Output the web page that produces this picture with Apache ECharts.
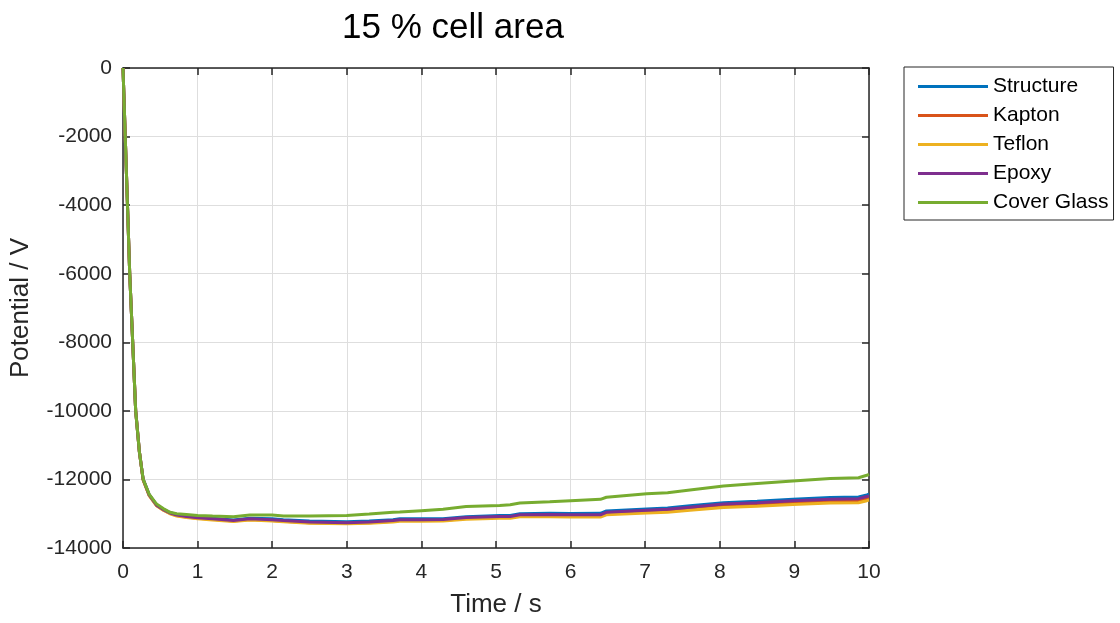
<!DOCTYPE html>
<html style='height: 100%'>
<head>
    <meta charset='utf-8'>
</head>
<body style='height: 100%; margin: 0; background: #fff'>
    <div id='container' style='width: 1120px; height: 623px'></div>
    <script type='text/javascript' src='https://cdn.jsdelivr.net/npm/echarts@6/dist/echarts.min.js'></script>
    <script type="text/javascript">

// time axis (s)
var time = [0, 0.03, 0.06, 0.09, 0.13, 0.17, 0.22, 0.27, 0.35, 0.45, 0.54, 0.63, 0.72, 0.85, 1.0, 1.2, 1.48, 1.7, 2.0, 2.15, 2.5, 3.0, 3.3, 3.62, 3.71, 4.0, 4.29, 4.6, 5.05, 5.19, 5.32, 5.72, 6.0, 6.4, 6.48, 7.02, 7.3, 7.6, 8.05, 8.5, 8.98, 9.48, 9.86, 9.97, 10];

// potential (V) for each material
var structure = [0, -2000, -4000, -6000, -8000, -10000, -11200, -11990, -12440, -12740, -12870, -12965, -13020, -13060, -13100, -13130, -13180, -13130, -13150, -13175, -13215, -13235, -13215, -13175, -13150, -13150, -13145, -13085, -13050, -13050, -13000, -12985, -12995, -12990, -12920, -12860, -12830, -12770, -12680, -12635, -12575, -12525, -12510, -12450, -12430];
var kapton = [0, -2000, -4000, -6000, -8000, -10000, -11200, -12010, -12460, -12760, -12890, -12990, -13055, -13095, -13135, -13165, -13215, -13170, -13195, -13220, -13260, -13280, -13260, -13220, -13200, -13200, -13195, -13135, -13105, -13110, -13060, -13055, -13065, -13065, -12995, -12940, -12915, -12860, -12770, -12730, -12680, -12635, -12620, -12560, -12545];
var teflon = [0, -2000, -4000, -6000, -8000, -10000, -11200, -12020, -12470, -12770, -12900, -13000, -13070, -13110, -13150, -13180, -13230, -13185, -13210, -13235, -13275, -13295, -13280, -13240, -13220, -13220, -13215, -13160, -13130, -13135, -13090, -13085, -13095, -13095, -13030, -12980, -12955, -12900, -12820, -12785, -12730, -12690, -12680, -12620, -12600];
var epoxy = [0, -2000, -4000, -6000, -8000, -10000, -11200, -12000, -12450, -12750, -12880, -12980, -13040, -13080, -13120, -13150, -13200, -13150, -13175, -13200, -13240, -13260, -13240, -13200, -13175, -13175, -13170, -13110, -13080, -13080, -13030, -13020, -13030, -13030, -12960, -12900, -12870, -12810, -12720, -12680, -12620, -12575, -12560, -12500, -12480];
var coverGlass = [0, -2000, -4000, -6000, -8000, -10000, -11200, -11990, -12430, -12720, -12850, -12960, -13000, -13020, -13050, -13070, -13090, -13040, -13040, -13070, -13070, -13050, -13010, -12960, -12950, -12910, -12870, -12790, -12760, -12740, -12690, -12650, -12620, -12580, -12520, -12420, -12390, -12310, -12190, -12120, -12045, -11970, -11950, -11880, -11850];

var names = ['Structure', 'Kapton', 'Teflon', 'Epoxy', 'Cover Glass'];
var colors = ['#0072BD', '#D95319', '#EDB120', '#7E2F8E', '#77AC30'];
var values = [structure, kapton, teflon, epoxy, coverGlass];

var dom = document.getElementById("container");
var myChart = echarts.init(dom);

var font = 'Liberation Sans, Arial, sans-serif';

var series = [];
for (var i = 0; i < names.length; i++) {
    var pts = [];
    for (var j = 0; j < time.length; j++) {
        pts.push([time[j], values[i][j]]);
    }
    series.push({
        name: names[i],
        type: 'line',
        data: pts,
        showSymbol: false,
        symbol: 'none',
        lineStyle: { width: 3, color: colors[i] },
        itemStyle: { color: colors[i] }
    });
}

var gridLine = { show: true, lineStyle: { color: '#dedede', width: 1 } };
var boxLine = { show: true, onZero: false, lineStyle: { color: '#262626', width: 1.5 } };
var ticks = { inside: true, length: 7, lineStyle: { color: '#262626', width: 1.5 } };

option = {
    backgroundColor: '#fff',
    animation: false,
    textStyle: { fontFamily: font },
    title: {
        text: '15 % cell area',
        left: 448,
        textAlign: 'center',
        top: 6,
        textStyle: { fontFamily: font, fontSize: 35, fontWeight: 'normal', color: '#000' }
    },
    legend: {
        orient: 'vertical',
        left: 904,
        top: 67,
        padding: [9, 5, 7, 14],
        itemGap: 8,
        itemWidth: 70,
        itemHeight: 3,
        itemTextGap: 10,
        icon: 'rect',
        borderColor: '#262626',
        borderWidth: 1,
        borderRadius: 0,
        backgroundColor: '#fff',
        textStyle: { fontFamily: font, fontSize: 21, color: '#000' },
        data: names
    },
    grid: { left: 123, top: 68, right: 251, bottom: 71, containLabel: false },
    xAxis: [{
        type: 'value',
        min: 0, max: 10, interval: 1,
        name: 'Time / s',
        nameLocation: 'middle',
        nameGap: 44,
        nameTextStyle: { fontFamily: font, fontSize: 26, color: '#262626' },
        axisLine: boxLine,
        axisTick: ticks,
        axisLabel: { fontFamily: font, fontSize: 21, color: '#262626', margin: 14 },
        splitLine: gridLine
    }, {
        type: 'value', position: 'top',
        min: 0, max: 10, interval: 1,
        axisLine: boxLine,
        axisTick: ticks,
        axisLabel: { show: false },
        splitLine: { show: false }
    }],
    yAxis: [{
        type: 'value',
        min: -14000, max: 0, interval: 2000,
        name: 'Potential / V',
        nameLocation: 'middle',
        nameGap: 89,
        nameTextStyle: { fontFamily: font, fontSize: 26, color: '#262626' },
        axisLine: boxLine,
        axisTick: ticks,
        axisLabel: {
            fontFamily: font, fontSize: 21, color: '#262626', margin: 11,
            formatter: function (v) { return String(v); }
        },
        splitLine: gridLine
    }, {
        type: 'value', position: 'right',
        min: -14000, max: 0, interval: 2000,
        axisLine: boxLine,
        axisTick: ticks,
        axisLabel: { show: false },
        splitLine: { show: false }
    }],
    series: series
};

if (option && typeof option === "object") {
    myChart.setOption(option, true);
}
    </script>
</body>
</html>
